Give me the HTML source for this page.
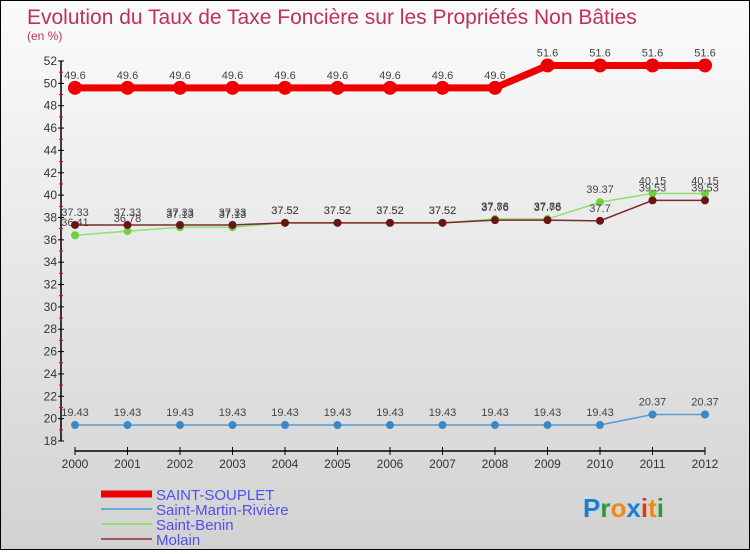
<!DOCTYPE html>
<html><head><meta charset="utf-8">
<style>
html,body{margin:0;padding:0}
body{width:750px;height:550px;overflow:hidden;font-family:"Liberation Sans",sans-serif}
#wrap{position:relative;width:748px;height:548px;border:1px solid #000;background:linear-gradient(#fbfbfb,#d2d2d2)}
</style></head>
<body>
<div id="wrap">
<svg id="chart" width="748" height="548" xmlns="http://www.w3.org/2000/svg">
<text x="26" y="23" font-size="21" fill="#c0305a">Evolution du Taux de Taxe Foncière sur les Propriétés Non Bâties</text>
<text x="26" y="39" font-size="12" fill="#c0305a">(en %)</text>
<g id="axes"></g>
<g id="series"></g>
<g id="legend"></g>
<text x="582" y="516" font-size="26" font-weight="bold"><tspan fill="#1a7fd0">P</tspan><tspan fill="#2a9a3a">r</tspan><tspan fill="#f08a10">o</tspan><tspan fill="#1a7fd0">x</tspan><tspan fill="#e03a10">i</tspan><tspan fill="#f08a10">t</tspan><tspan fill="#2a9a3a">i</tspan></text>
</svg>
</div>
<script>
const years=["2000","2001","2002","2003","2004","2005","2006","2007","2008","2009","2010","2011","2012"];
const yTicks=[18,20,22,24,26,28,30,32,34,36,38,40,42,44,46,48,50,52];
const saintSouplet=[49.6,49.6,49.6,49.6,49.6,49.6,49.6,49.6,49.6,51.6,51.6,51.6,51.6];
const saintMartin=[19.43,19.43,19.43,19.43,19.43,19.43,19.43,19.43,19.43,19.43,19.43,20.37,20.37];
const saintBenin=[36.41,36.78,37.13,37.13,37.52,37.52,37.52,37.52,37.86,37.86,39.37,40.15,40.15];
const molain=[37.33,37.33,37.33,37.33,37.52,37.52,37.52,37.52,37.76,37.76,37.7,39.53,39.53];
const seriesNames=["SAINT-SOUPLET","Saint-Martin-Rivière","Saint-Benin","Molain"];

const NS="http://www.w3.org/2000/svg";
const x0=74,dx=52.5,yMin=18,yMax=52,py0=440,py1=60;
const X=i=>x0+i*dx;
const Y=v=>py0-(v-yMin)/(yMax-yMin)*(py0-py1);
function mk(tag,attrs,parent){const e=document.createElementNS(NS,tag);for(const k in attrs)e.setAttribute(k,attrs[k]);parent.appendChild(e);return e;}
const axes=document.getElementById('axes');
let ax=mk('line',{x1:60,y1:Y(52),x2:60,y2:Y(18),stroke:'#000','stroke-width':1.5},axes);

yTicks.forEach(t=>{
  let l=mk('line',{x1:57,x2:63,y1:Y(t),y2:Y(t),stroke:'#000'},axes);
  
  if(t<52){
    let m=mk('line',{x1:58,x2:62,y1:Y(t+1),y2:Y(t+1),stroke:'#e00'},axes);
    
  }
  let tx=mk('text',{x:56,y:Y(t)+4,'font-size':12,'text-anchor':'end',fill:'#333'},axes);tx.textContent=t;
  
});
let xa=mk('line',{x1:X(0),y1:450,x2:X(12),y2:450,stroke:'#000','stroke-width':1.5},axes);

years.forEach((yr,i)=>{
  let l=mk('line',{x1:X(i),x2:X(i),y1:446,y2:454,stroke:'#000'},axes);
  
  let t=mk('text',{x:X(i),y:467,'font-size':12,'text-anchor':'middle',fill:'#333'},axes);t.textContent=yr;
  
});
const sg=document.getElementById('series');
function draw(vals,color,w,r,name,dotColor){
  const g=mk('g',{},sg);
  
  let p=mk('polyline',{points:vals.map((v,i)=>X(i)+','+Y(v)).join(' '),fill:'none',stroke:color,'stroke-width':w},g);
  
  vals.forEach((v,i)=>{
    let c=mk('circle',{cx:X(i),cy:Y(v),r:r,fill:dotColor},g);
    
    let t=mk('text',{x:X(i),y:Y(v)-9,'font-size':11,'text-anchor':'middle',fill:'#444'},g);t.textContent=v;
    
  });
}
draw(saintMartin,'#5a9bd0',1.5,4,'saint-martin-riviere','#3a88c8');
draw(saintBenin,'#90e070',1.5,4,'saint-benin','#70d040');
draw(molain,'#7a2a2a',1.5,4,'molain','#6a1515');
draw(saintSouplet,'#ee0000',7,7,'saint-souplet','#ee0000');
const lg=document.getElementById('legend');
const lc=['#ee0000','#6aa8d8','#90e070','#9a5a5a'],lw=[7,2,2,2];
seriesNames.forEach((n,i)=>{
  const y=493+i*15;
  let l=mk('line',{x1:100,x2:151,y1:y,y2:y,stroke:lc[i],'stroke-width':lw[i]},lg);
  
  let t=mk('text',{x:155,y:y+6,'font-size':15,fill:'#5050ee'},lg);t.textContent=n;
  
});
</script>
</body></html>
